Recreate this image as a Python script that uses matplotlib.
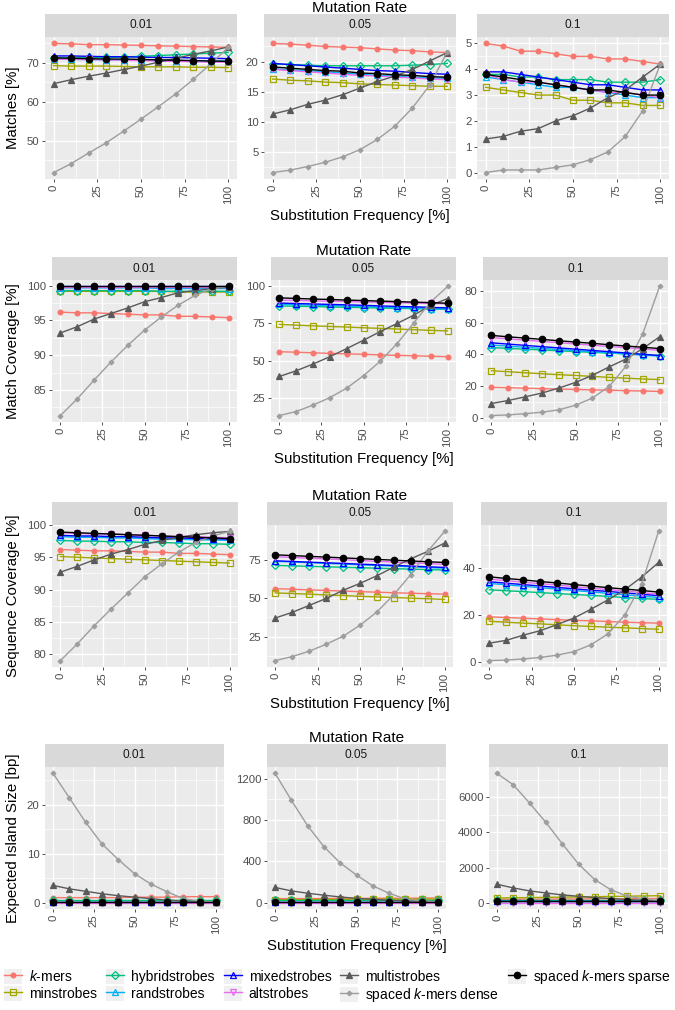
import matplotlib

matplotlib.use("Agg")
import matplotlib.pyplot as plt
from matplotlib.lines import Line2D
from matplotlib.patches import Rectangle
from matplotlib.legend_handler import HandlerTuple
from matplotlib.ticker import AutoMinorLocator

plt.rcParams["font.family"] = ["Liberation Sans", "DejaVu Sans"]
plt.rcParams["mathtext.fontset"] = "custom"
plt.rcParams["mathtext.rm"] = "Liberation Sans"
plt.rcParams["mathtext.it"] = "Liberation Sans:italic"

# --- data -----------------------------------------------------------------------
SUBST = [0, 10, 20, 30, 40, 50, 60, 70, 80, 90, 100]
RATES = ["0.01", "0.05", "0.1"]
METHODS = ["$k$-mers", "minstrobes", "hybridstrobes", "randstrobes", "mixedstrobes",
           "altstrobes", "multistrobes", "spaced $k$-mers dense", "spaced $k$-mers sparse"]
XTICKS = [0, 25, 50, 75, 100]

# order of series in each block follows METHODS
MATCHES_001 = [
    [75.0, 74.9, 74.7, 74.7, 74.6, 74.5, 74.4, 74.3, 74.2, 74.1, 74.0],
    [69.3, 69.2, 69.2, 69.2, 69.1, 69.0, 69.0, 69.0, 68.9, 68.9, 68.8],
    [71.3, 71.3, 71.4, 71.4, 71.5, 71.7, 71.9, 72.1, 72.3, 72.5, 72.7],
    [71.0, 70.9, 70.9, 70.8, 70.8, 70.7, 70.7, 70.6, 70.6, 70.5, 70.5],
    [71.8, 71.8, 71.7, 71.6, 71.6, 71.5, 71.4, 71.4, 71.3, 71.2, 71.1],
    [71.0, 70.9, 70.9, 70.8, 70.7, 70.6, 70.5, 70.4, 70.3, 70.2, 70.2],
    [64.7, 65.7, 66.6, 67.4, 68.3, 69.2, 70.2, 71.2, 72.2, 73.1, 74.1],
    [41.9, 44.2, 46.9, 49.5, 52.5, 55.6, 58.8, 62.1, 65.8, 69.8, 74.0],
    [71.3, 71.2, 71.1, 71.0, 71.0, 70.9, 70.8, 70.7, 70.6, 70.5, 70.4],
]
MATCHES_005 = [
    [23.0, 22.9, 22.7, 22.5, 22.4, 22.3, 22.1, 21.9, 21.8, 21.6, 21.5],
    [17.1, 16.9, 16.8, 16.6, 16.5, 16.3, 16.2, 16.1, 16.0, 15.9, 15.9],
    [19.6, 19.5, 19.4, 19.3, 19.3, 19.3, 19.3, 19.3, 19.4, 19.5, 19.7],
    [18.8, 18.6, 18.5, 18.3, 18.1, 17.9, 17.7, 17.6, 17.4, 17.3, 17.2],
    [19.7, 19.5, 19.3, 19.1, 18.9, 18.7, 18.5, 18.4, 18.2, 18.0, 17.9],
    [18.7, 18.5, 18.3, 18.1, 17.9, 17.7, 17.6, 17.4, 17.3, 17.1, 17.0],
    [11.3, 12.0, 12.9, 13.6, 14.5, 15.6, 16.7, 17.6, 18.7, 20.1, 21.5],
    [1.6, 2.0, 2.6, 3.3, 4.2, 5.4, 7.1, 9.3, 12.3, 16.1, 21.6],
    [19.1, 18.9, 18.7, 18.5, 18.4, 18.1, 18.0, 17.8, 17.7, 17.5, 17.4],
]
MATCHES_01 = [
    [5.0, 4.9, 4.7, 4.7, 4.6, 4.5, 4.5, 4.4, 4.4, 4.3, 4.2],
    [3.3, 3.2, 3.1, 3.0, 3.0, 2.8, 2.8, 2.7, 2.7, 2.6, 2.6],
    [3.8, 3.8, 3.7, 3.7, 3.6, 3.6, 3.6, 3.5, 3.5, 3.5, 3.6],
    [3.7, 3.6, 3.5, 3.4, 3.3, 3.3, 3.2, 3.1, 3.0, 2.9, 2.9],
    [3.9, 3.9, 3.8, 3.7, 3.6, 3.5, 3.4, 3.4, 3.3, 3.2, 3.2],
    [3.8, 3.6, 3.5, 3.5, 3.4, 3.3, 3.2, 3.1, 3.1, 3.0, 2.9],
    [1.3, 1.4, 1.6, 1.7, 2.0, 2.2, 2.5, 2.9, 3.2, 3.7, 4.2],
    [0.0, 0.1, 0.1, 0.1, 0.2, 0.3, 0.5, 0.8, 1.4, 2.4, 4.2],
    [3.8, 3.7, 3.6, 3.5, 3.4, 3.3, 3.2, 3.2, 3.1, 3.0, 3.0],
]

MATCHCOV_001 = [
    [96.2, 96.1, 96.1, 96.0, 95.9, 95.8, 95.8, 95.6, 95.6, 95.5, 95.4],
    [99.2, 99.2, 99.2, 99.2, 99.2, 99.2, 99.2, 99.1, 99.1, 99.1, 99.1],
    [99.3, 99.3, 99.3, 99.3, 99.3, 99.3, 99.2, 99.2, 99.2, 99.2, 99.2],
    [99.7, 99.7, 99.7, 99.7, 99.7, 99.7, 99.6, 99.6, 99.6, 99.6, 99.6],
    [99.9, 99.9, 99.9, 99.9, 99.9, 99.9, 99.9, 99.9, 99.9, 99.9, 99.9],
    [99.8, 99.8, 99.8, 99.8, 99.8, 99.8, 99.8, 99.8, 99.8, 99.8, 99.8],
    [93.2, 94.1, 95.2, 96.0, 96.8, 97.7, 98.3, 99.0, 99.3, 99.6, 99.8],
    [81.3, 83.7, 86.4, 89.0, 91.4, 93.6, 95.5, 97.2, 98.6, 99.6, 99.9],
    [99.9, 99.9, 99.9, 99.9, 99.9, 99.9, 99.9, 99.9, 99.9, 99.9, 99.9],
]
MATCHCOV_005 = [
    [56.0, 55.7, 55.3, 54.9, 54.6, 54.3, 53.9, 53.6, 53.3, 53.0, 52.7],
    [74.3, 73.8, 73.3, 72.9, 72.5, 72.0, 71.6, 71.2, 70.7, 70.3, 69.9],
    [86.6, 86.4, 86.2, 85.9, 85.7, 85.5, 85.2, 85.0, 84.8, 84.5, 84.3],
    [87.7, 87.4, 87.1, 86.8, 86.5, 86.1, 85.8, 85.5, 85.2, 84.8, 84.5],
    [88.5, 88.2, 87.9, 87.6, 87.3, 87.0, 86.6, 86.3, 86.0, 85.6, 85.3],
    [90.5, 90.3, 90.0, 89.8, 89.5, 89.3, 89.0, 88.8, 88.5, 88.3, 88.0],
    [39.5, 43.3, 47.8, 52.7, 58.1, 63.7, 69.5, 74.9, 80.5, 87.0, 91.5],
    [13.4, 16.1, 20.4, 25.4, 31.7, 40.0, 49.7, 61.5, 75.4, 89.3, 99.6],
    [92.0, 91.6, 91.2, 90.9, 90.5, 90.2, 89.8, 89.5, 89.1, 88.8, 88.4],
]
MATCHCOV_01 = [
    [19.2, 18.9, 18.6, 18.3, 18.0, 17.8, 17.5, 17.3, 17.0, 16.8, 16.5],
    [29.6, 29.0, 28.3, 27.7, 27.1, 26.6, 26.0, 25.4, 24.9, 24.4, 24.0],
    [44.2, 43.7, 43.2, 42.7, 42.2, 41.7, 41.2, 40.7, 40.2, 39.7, 39.2],
    [45.8, 45.1, 44.4, 43.7, 43.0, 42.3, 41.6, 40.9, 40.2, 39.5, 38.8],
    [47.2, 46.4, 45.6, 44.8, 44.0, 43.2, 42.4, 41.6, 40.8, 40.0, 39.2],
    [50.5, 49.7, 48.9, 48.1, 47.3, 46.5, 45.7, 44.9, 44.1, 43.3, 42.5],
    [8.9, 10.8, 13.1, 15.5, 18.6, 22.2, 26.7, 32.0, 37.0, 43.6, 51.0],
    [1.3, 1.7, 2.5, 3.4, 4.9, 7.8, 12.3, 19.7, 32.4, 53.0, 82.8],
    [51.9, 51.0, 50.2, 49.4, 48.5, 47.7, 46.9, 46.0, 45.2, 44.4, 43.6],
]

SEQCOV_001 = [
    [96.2, 96.1, 96.0, 96.0, 95.9, 95.8, 95.8, 95.6, 95.6, 95.5, 95.4],
    [95.1, 95.0, 94.9, 94.8, 94.7, 94.6, 94.5, 94.4, 94.3, 94.2, 94.1],
    [97.6, 97.5, 97.5, 97.4, 97.4, 97.3, 97.3, 97.2, 97.1, 97.1, 97.0],
    [98.2, 98.1, 98.1, 98.0, 98.0, 97.9, 97.8, 97.8, 97.7, 97.7, 97.6],
    [98.4, 98.3, 98.3, 98.2, 98.2, 98.1, 98.0, 98.0, 97.9, 97.9, 97.8],
    [98.8, 98.7, 98.6, 98.6, 98.5, 98.4, 98.3, 98.2, 98.2, 98.1, 98.0],
    [92.7, 93.6, 94.6, 95.5, 96.2, 97.0, 97.6, 98.1, 98.5, 98.8, 99.0],
    [79.0, 81.6, 84.4, 87.0, 89.5, 92.0, 94.0, 95.8, 97.3, 98.3, 99.0],
    [98.9, 98.8, 98.7, 98.6, 98.5, 98.4, 98.3, 98.2, 98.1, 98.0, 97.9],
]
SEQCOV_005 = [
    [56.2, 55.8, 55.4, 55.0, 54.6, 54.2, 53.9, 53.5, 53.2, 52.9, 52.6],
    [53.4, 53.0, 52.6, 52.1, 51.7, 51.2, 50.8, 50.4, 50.0, 49.6, 49.2],
    [71.3, 71.0, 70.7, 70.4, 70.1, 69.8, 69.5, 69.2, 68.9, 68.6, 68.3],
    [74.0, 73.5, 73.1, 72.6, 72.2, 71.7, 71.3, 70.8, 70.4, 69.9, 69.5],
    [74.3, 73.9, 73.4, 73.0, 72.6, 72.1, 71.7, 71.3, 70.9, 70.4, 70.0],
    [77.0, 76.5, 76.0, 75.5, 75.0, 74.5, 74.0, 73.5, 73.0, 72.5, 72.0],
    [37.1, 40.8, 45.3, 49.8, 55.1, 59.6, 64.6, 70.2, 75.6, 80.4, 85.8],
    [9.4, 12.0, 15.5, 20.0, 25.2, 32.4, 41.0, 52.3, 65.3, 80.4, 93.4],
    [78.2, 77.7, 77.2, 76.7, 76.2, 75.7, 75.2, 74.7, 74.2, 73.7, 73.2],
]
SEQCOV_01 = [
    [19.3, 19.0, 18.7, 18.4, 18.1, 17.8, 17.6, 17.3, 17.0, 16.8, 16.6],
    [17.4, 17.0, 16.6, 16.3, 15.9, 15.5, 15.2, 14.9, 14.6, 14.3, 14.0],
    [30.8, 30.4, 30.0, 29.6, 29.2, 28.8, 28.4, 28.0, 27.5, 27.1, 26.7],
    [33.5, 32.9, 32.3, 31.7, 31.1, 30.5, 29.9, 29.3, 28.7, 28.1, 27.5],
    [34.2, 33.6, 33.0, 32.4, 31.8, 31.2, 30.6, 30.1, 29.5, 28.9, 28.3],
    [35.3, 34.7, 34.0, 33.4, 32.8, 32.1, 31.5, 30.9, 30.3, 29.6, 29.0],
    [8.1, 9.3, 11.5, 13.4, 16.0, 18.8, 22.5, 26.5, 30.8, 36.2, 42.4],
    [0.7, 0.9, 1.4, 2.0, 3.0, 4.5, 7.4, 12.0, 20.0, 33.2, 55.6],
    [36.3, 35.6, 35.0, 34.3, 33.7, 33.0, 32.4, 31.7, 31.1, 30.5, 29.8],
]

ISLAND_001 = [
    [1.0, 1.0, 1.0, 1.0, 1.0, 1.1, 1.1, 1.1, 1.2, 1.2, 1.2],
    [0.2, 0.2, 0.2, 0.2, 0.2, 0.2, 0.2, 0.2, 0.2, 0.2, 0.2],
    [0.5, 0.5, 0.5, 0.5, 0.5, 0.5, 0.5, 0.5, 0.5, 0.5, 0.5],
    [0.15, 0.15, 0.15, 0.15, 0.15, 0.15, 0.15, 0.15, 0.15, 0.15, 0.15],
    [0.05, 0.05, 0.05, 0.05, 0.05, 0.05, 0.05, 0.05, 0.05, 0.05, 0.05],
    [0.0, 0.0, 0.0, 0.0, 0.0, 0.0, 0.0, 0.0, 0.0, 0.0, 0.0],
    [3.5, 2.8, 2.3, 1.8, 1.4, 1.1, 0.8, 0.5, 0.35, 0.2, 0.1],
    [26.4, 21.4, 16.4, 12.0, 8.8, 5.9, 3.8, 2.2, 0.8, 0.3, 0.1],
    [0.1, 0.1, 0.1, 0.1, 0.1, 0.1, 0.1, 0.1, 0.1, 0.1, 0.1],
]
ISLAND_005 = [
    [38, 39, 39, 40, 41, 41, 42, 43, 43, 44, 45],
    [28, 29, 29, 30, 31, 31, 32, 33, 33, 34, 35],
    [22, 22, 22, 22, 22, 22, 22, 22, 22, 22, 22],
    [6, 6, 6, 6, 6, 6, 6, 6, 6, 6, 6],
    [4, 4, 4, 4, 4, 4, 4, 4, 4, 4, 4],
    [1, 1, 1, 1, 1, 1, 1, 1, 1, 1, 1],
    [147, 114, 91, 72, 55, 42, 33, 23, 16, 13, 10],
    [1250, 990, 743, 541, 384, 267, 163, 91, 36, 16, 10],
    [5, 5, 5, 5, 5, 5, 5, 5, 5, 5, 5],
]
ISLAND_01 = [
    [200, 205, 210, 215, 220, 225, 230, 235, 240, 245, 250],
    [280, 290, 300, 315, 325, 340, 350, 365, 380, 395, 410],
    [150, 150, 150, 150, 150, 150, 150, 150, 150, 150, 150],
    [100, 100, 100, 100, 100, 100, 100, 100, 100, 100, 100],
    [90, 90, 90, 90, 90, 90, 90, 90, 90, 90, 90],
    [20, 20, 20, 20, 20, 20, 20, 20, 20, 20, 20],
    [1057, 849, 679, 566, 453, 377, 302, 245, 189, 151, 113],
    [7350, 6700, 5660, 4570, 3360, 2210, 1320, 740, 380, 230, 130],
    [100, 100, 100, 100, 100, 100, 100, 100, 100, 100, 100],
]

ROWS = [
    ("Matches [%]", [MATCHES_001, MATCHES_005, MATCHES_01],
     [[50, 60, 70], [5, 10, 15, 20], [0, 1, 2, 3, 4, 5]]),
    ("Match Coverage [%]", [MATCHCOV_001, MATCHCOV_005, MATCHCOV_01],
     [[85, 90, 95, 100], [25, 50, 75, 100], [0, 20, 40, 60, 80]]),
    ("Sequence Coverage [%]", [SEQCOV_001, SEQCOV_005, SEQCOV_01],
     [[80, 85, 90, 95, 100], [25, 50, 75], [0, 20, 40]]),
    ("Expected Island Size [bp]", [ISLAND_001, ISLAND_005, ISLAND_01],
     [[0, 10, 20], [0, 400, 800, 1200], [0, 2000, 4000, 6000]]),
]

# --- styles (colour, marker, filled, marker size) ---------------------------------
STYLES = [
    ("#F8766D", "o", True, 3.4),
    ("#A3A500", "s", False, 4.0),
    ("#00BF7D", "D", False, 3.6),
    ("#00B0F6", "^", False, 4.6),
    ("#0000FF", "^", False, 4.6),
    ("#E76BF3", "v", False, 4.6),
    ("#5A5A5A", "^", True, 4.4),
    ("#9E9E9E", "D", True, 2.4),
    ("#000000", "o", True, 4.6),
]

# --- layout in pixels ---------------------------------------------------------------
W, H = 675, 1010
ROW_TOP = [14, 257, 502, 744]
STRIP_H = 23
PANEL_H = 142
COL_LEFT = [[45, 264, 477], [52, 271, 483], [52, 267, 481], [45, 267, 489]]
COL_W = [192, 185, 186, 179]
TITLE_SIZE = 10.8

fig = plt.figure(figsize=(W / 100, H / 100), dpi=100)


def px_axes(left, top, width, height):
    return fig.add_axes([left / W, 1 - (top + height) / H, width / W, height / H])


def line_kw(style):
    col, mk, filled, ms = style
    return dict(color=col, marker=mk, ms=ms, lw=1.0, mew=0.9,
                mfc=col if filled else "none", mec=col)


for r, (ylabel, blocks, yticks) in enumerate(ROWS):
    top = ROW_TOP[r]
    for c in range(3):
        left, w = COL_LEFT[r][c], COL_W[r]
        ax = px_axes(left, top + STRIP_H, w, PANEL_H)
        ax.set_facecolor("#EBEBEB")
        for series, style in zip(blocks[c], STYLES):
            ax.plot(SUBST, series, **line_kw(style))
        ylim = ax.get_ylim()
        ax.set_xticks(XTICKS)
        ax.set_yticks(yticks[c])
        ax.set_ylim(ylim)
        ax.set_xlim(-5, 105)
        ax.xaxis.set_minor_locator(AutoMinorLocator(2))
        ax.yaxis.set_minor_locator(AutoMinorLocator(2))
        ax.grid(which="major", color="white", lw=1.0)
        ax.grid(which="minor", color="white", lw=0.5)
        ax.set_axisbelow(True)
        for s in ax.spines.values():
            s.set_visible(False)
        ax.tick_params(which="major", length=2.5, width=0.6, color="#333333",
                       labelsize=8.2, labelcolor="#4D4D4D", pad=1.5)
        ax.tick_params(which="minor", length=0)
        ax.tick_params(axis="x", labelrotation=90)

        strip = px_axes(left, top, w, STRIP_H)
        strip.set_facecolor("#D9D9D9")
        strip.set_xticks([])
        strip.set_yticks([])
        for s in strip.spines.values():
            s.set_visible(False)
        strip.text(0.5, 0.5, RATES[c], ha="center", va="center",
                   fontsize=8.6, color="#1A1A1A", transform=strip.transAxes)

    mid = COL_LEFT[r][1] + COL_W[r] / 2
    fig.text(mid / W, 1 - (top - 2) / H, "Mutation Rate", ha="center", va="baseline",
             fontsize=11.0)
    fig.text(mid / W, 1 - (top + STRIP_H + PANEL_H + 37) / H,
             "Substitution Frequency [%]", ha="center", va="center", fontsize=TITLE_SIZE)
    fig.text(13 / W, 1 - (top + STRIP_H + PANEL_H / 2) / H, ylabel, rotation=90,
             ha="center", va="center", fontsize=TITLE_SIZE)

# --- legend with grey key boxes -----------------------------------------------------
handles = []
for style in STYLES:
    key = Rectangle((0, 0), 1, 1, facecolor="#F0F0F0", edgecolor="none")
    handles.append((key, Line2D([], [], **line_kw(style))))
fig.legend(handles, METHODS, ncol=5, loc="upper left",
           bbox_to_anchor=(4 / W, 1 - 968 / H), frameon=False, fontsize=10,
           handlelength=1.3, handleheight=1.3, handletextpad=0.5,
           columnspacing=0.65, labelspacing=0.15, borderpad=0, borderaxespad=0,
           handler_map={tuple: HandlerTuple(ndivide=1)})

fig.savefig("out.png", dpi=100)
